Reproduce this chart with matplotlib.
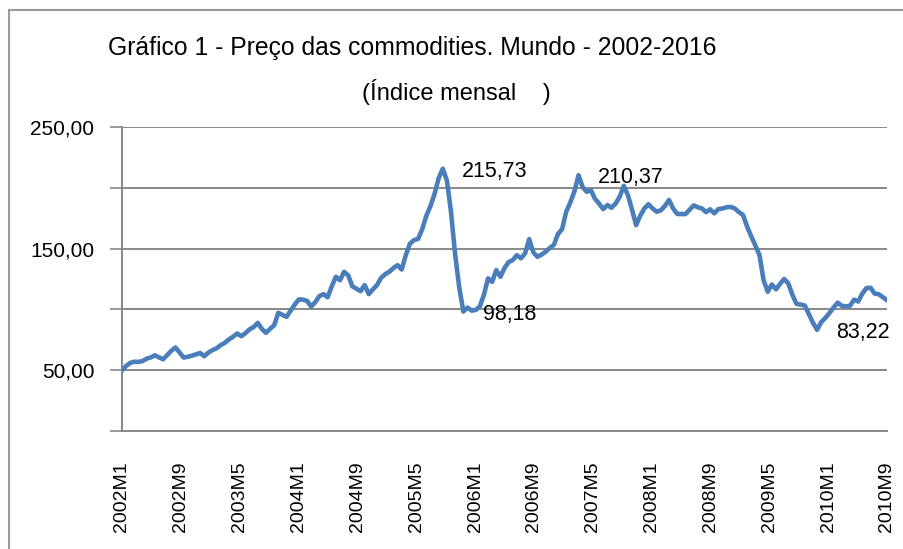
import matplotlib
matplotlib.use("Agg")
import matplotlib.pyplot as plt
from matplotlib.lines import Line2D
import numpy as np

# Indice mensal dos precos das commodities
indice = [
    50.0, 53.5, 56.0, 57.0, 56.8, 57.5, 59.5, 60.5, 62.3, 60.5,
    59.0, 62.5, 66.0, 68.7, 64.5, 60.4, 61.0, 62.0, 63.0, 64.2,
    61.5, 64.5, 66.5, 68.0, 70.6, 72.5, 75.3, 77.5, 80.2, 78.0,
    80.5, 83.5, 85.5, 88.9, 84.0, 80.7, 84.0, 87.0, 97.2, 95.5,
    93.9, 99.0, 104.0, 108.2, 108.0, 107.0, 102.3, 106.0, 111.0, 112.6,
    110.0, 119.0, 126.8, 124.0, 130.9, 128.0, 119.0, 117.0, 115.0, 120.0,
    112.6, 116.5, 120.0, 126.0, 129.0, 131.0, 134.0, 136.4, 132.8, 144.6,
    154.0, 157.0, 158.0, 166.0, 177.0, 185.0, 195.0, 208.0, 215.73, 206.0,
    180.0, 145.0, 118.0, 98.18, 101.5, 99.0, 99.5, 102.5, 112.0, 125.5,
    122.7, 132.3, 126.8, 134.0, 139.0, 140.5, 144.6, 142.0, 146.0, 157.8,
    147.0, 143.3, 145.0, 147.4, 150.5, 153.0, 162.0, 166.0, 180.3, 188.0,
    197.0, 210.37, 200.5, 196.7, 198.0, 191.0, 187.0, 182.5, 185.8, 183.6,
    187.0, 192.6, 201.6, 194.0, 182.0, 169.3, 177.0, 183.0, 186.5, 183.0,
    180.3, 181.5, 185.0, 190.0, 183.0, 178.5, 178.4, 178.4, 182.0, 185.5,
    184.0, 183.0, 180.0, 182.3, 179.0, 182.5, 183.0, 184.0, 184.3, 183.0,
    180.0, 177.6, 168.0, 160.0, 152.5, 144.6, 124.0, 114.5, 120.5, 116.5,
    121.0, 125.0, 121.4, 112.0, 104.5, 104.0, 103.2, 96.0, 89.0, 83.22,
    89.5, 93.0, 97.0, 101.5, 105.5, 103.0, 102.5, 103.0, 108.0, 106.5,
    113.0, 117.5, 117.8, 113.0, 112.5, 110.0, 107.6,
]

rotulos_x = ["2002M1", "2002M9", "2003M5", "2004M1", "2004M9", "2005M5", "2006M1",
             "2006M9", "2007M5", "2008M1", "2008M9", "2009M5", "2010M1", "2010M9"]

# pontos com rotulo de dados
destaques = [215.73, 98.18, 210.37, 83.22]

plt.rcParams['font.family'] = ['Liberation Sans', 'DejaVu Sans']

fig = plt.figure(figsize=(9.04, 5.49), dpi=100)
ax = fig.add_axes([122 / 904, 1 - 431 / 549, 765 / 904, 304 / 549])

x = np.arange(len(indice))
ax.plot(x, indice, color='#4A7EBB', linewidth=3.3, solid_joinstyle='round', zorder=3)

ax.set_xlim(0, len(indice) - 1)
ax.set_ylim(0, 250)

cinza = '#888888'
ax.set_yticks(np.arange(0, 251, 50))
ax.set_yticklabels(['' if v % 100 == 0 else f'{v},00' for v in range(0, 251, 50)])
ax.yaxis.grid(True, color=cinza, linewidth=1.4)
ax.set_axisbelow(True)
ax.tick_params(axis='y', length=9, width=1.2, color=cinza, pad=11, labelsize=15)

ax.set_xticks(np.linspace(0, len(indice) - 1, len(rotulos_x)))
ax.set_xticklabels(rotulos_x, rotation=90, fontsize=14)
ax.tick_params(axis='x', length=0, pad=22)

for lado in ['top', 'right']:
    ax.spines[lado].set_visible(False)
for lado in ['left', 'bottom']:
    ax.spines[lado].set_color(cinza)
    ax.spines[lado].set_linewidth(1.4)

for v in destaques:
    i = indice.index(v)
    ax.annotate(f'{v:.2f}'.replace('.', ','), (i, v), xytext=(14, -2),
                textcoords='offset points', ha='left', va='center', fontsize=15.5)

fig.text(108 / 904, 1 - 48 / 549, 'Gráfico 1 - Preço das commodities. Mundo - 2002-2016',
         ha='left', va='center', fontsize=17.8)
fig.text(362 / 904, 1 - 92 / 549, '(Índice mensal    )', ha='left', va='center', fontsize=17)

# moldura do grafico
fig.add_artist(Line2D([9 / 904, 9 / 904], [0, 1 - 10 / 549], transform=fig.transFigure,
                      color='#9A9A9A', linewidth=1.5))
fig.add_artist(Line2D([9 / 904, 1], [1 - 10 / 549, 1 - 10 / 549], transform=fig.transFigure,
                      color='#9A9A9A', linewidth=1.5))

fig.savefig('out.png', dpi=100)
